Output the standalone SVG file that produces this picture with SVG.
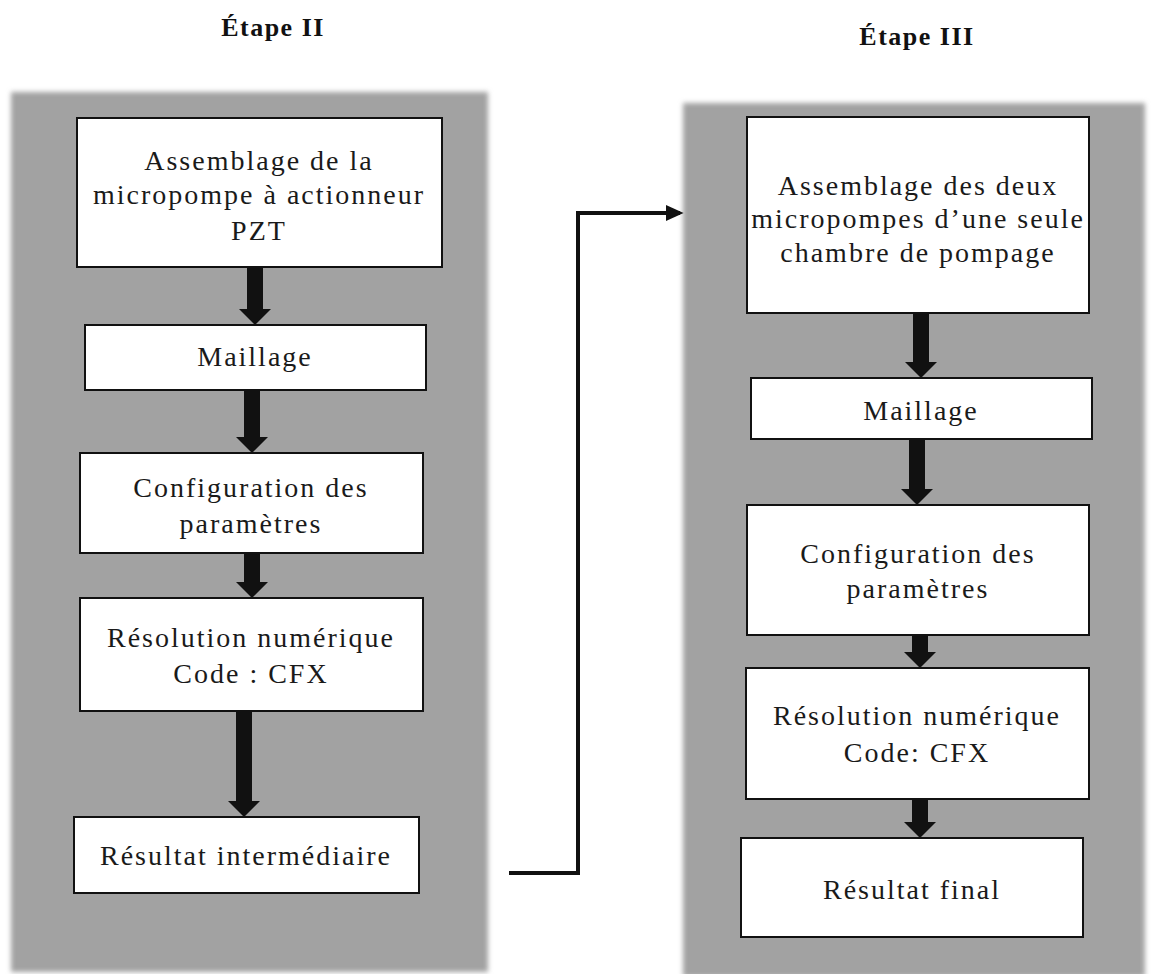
<svg xmlns="http://www.w3.org/2000/svg" width="1153" height="974" viewBox="0 0 1153 974">
<defs>
<style>
.panel{fill:#a2a2a2}
.box{fill:#ffffff;stroke:#111;stroke-width:2}
.t{font-family:"Liberation Serif","Times New Roman",serif;font-size:28px;letter-spacing:2px;fill:#1a1a1a;text-anchor:middle}
.title{font-family:"Liberation Serif","Times New Roman",serif;font-size:26px;font-weight:bold;letter-spacing:1.5px;fill:#111;text-anchor:middle}
.arr{fill:#111}
.link{fill:none;stroke:#111;stroke-width:4}
</style>
<filter id="soft" x="-5%" y="-5%" width="110%" height="110%"><feGaussianBlur stdDeviation="2.5"/></filter>
<marker id="ah" viewBox="0 0 10 10" refX="8" refY="5" markerWidth="4.5" markerHeight="4.5" orient="auto" markerUnits="strokeWidth"><path d="M0,0.5 L10,5 L0,9.5 Z" fill="#111"/></marker>
</defs>
<rect width="1153" height="974" fill="#ffffff"/>
<text class="title" x="273" y="36">Étape II</text>
<text class="title" x="917" y="45">Étape III</text>
<g id="panel-left"><rect class="panel" x="11" y="92" width="477" height="880" filter="url(#soft)"/></g>
<g id="panel-right"><rect class="panel" x="683" y="103" width="462" height="874" filter="url(#soft)"/></g>
<g id="connectors">
<path class="arr" d="M247,267 H263 V309 H271 L255,325 L239,309 H247 Z"/>
<path class="arr" d="M244,390 H260 V437 H268 L252,453 L236,437 H244 Z"/>
<path class="arr" d="M244,553 H260 V582 H268 L252,598 L236,582 H244 Z"/>
<path class="arr" d="M236,711 H252 V801 H260 L244,817 L228,801 H236 Z"/>
<path class="arr" d="M913,313 H929 V362 H937 L921,378 L905,362 H913 Z"/>
<path class="arr" d="M909,439 H925 V489 H933 L917,505 L901,489 H909 Z"/>
<path class="arr" d="M912,635 H928 V652 H936 L920,668 L904,652 H912 Z"/>
<path class="arr" d="M912,799 H928 V822 H936 L920,838 L904,822 H912 Z"/>
<polyline class="link" points="509,873 578,873 578,213 680,213" marker-end="url(#ah)"/>
</g>
<g id="l1"><rect class="box" x="77" y="118" width="365" height="149"/>
<text class="t" x="259" y="170">Assemblage de la</text>
<text class="t" x="259" y="204">micropompe à actionneur</text>
<text class="t" x="259" y="240">PZT</text></g>
<g id="l2"><rect class="box" x="85" y="325" width="341" height="65"/>
<text class="t" x="255" y="366">Maillage</text></g>
<g id="l3"><rect class="box" x="80" y="453" width="343" height="100"/>
<text class="t" x="251" y="497">Configuration des</text>
<text class="t" x="251" y="533">paramètres</text></g>
<g id="l4"><rect class="box" x="80" y="598" width="343" height="113"/>
<text class="t" x="251" y="647">Résolution numérique</text>
<text class="t" x="251" y="683">Code : CFX</text></g>
<g id="l5"><rect class="box" x="74" y="817" width="345" height="76"/>
<text class="t" x="246" y="865">Résultat intermédiaire</text></g>
<g id="r1"><rect class="box" x="747" y="117" width="342" height="196"/>
<text class="t" x="918" y="195">Assemblage des deux</text>
<text class="t" x="918" y="228">micropompes d’une seule</text>
<text class="t" x="918" y="262">chambre de pompage</text></g>
<g id="r2"><rect class="box" x="751" y="378" width="341" height="61"/>
<text class="t" x="921" y="420">Maillage</text></g>
<g id="r3"><rect class="box" x="747" y="505" width="342" height="130"/>
<text class="t" x="918" y="563">Configuration des</text>
<text class="t" x="918" y="598">paramètres</text></g>
<g id="r4"><rect class="box" x="746" y="668" width="343" height="131"/>
<text class="t" x="917" y="725">Résolution numérique</text>
<text class="t" x="917" y="762">Code: CFX</text></g>
<g id="r5"><rect class="box" x="741" y="838" width="342" height="99"/>
<text class="t" x="912" y="899">Résultat final</text></g>
</svg>
